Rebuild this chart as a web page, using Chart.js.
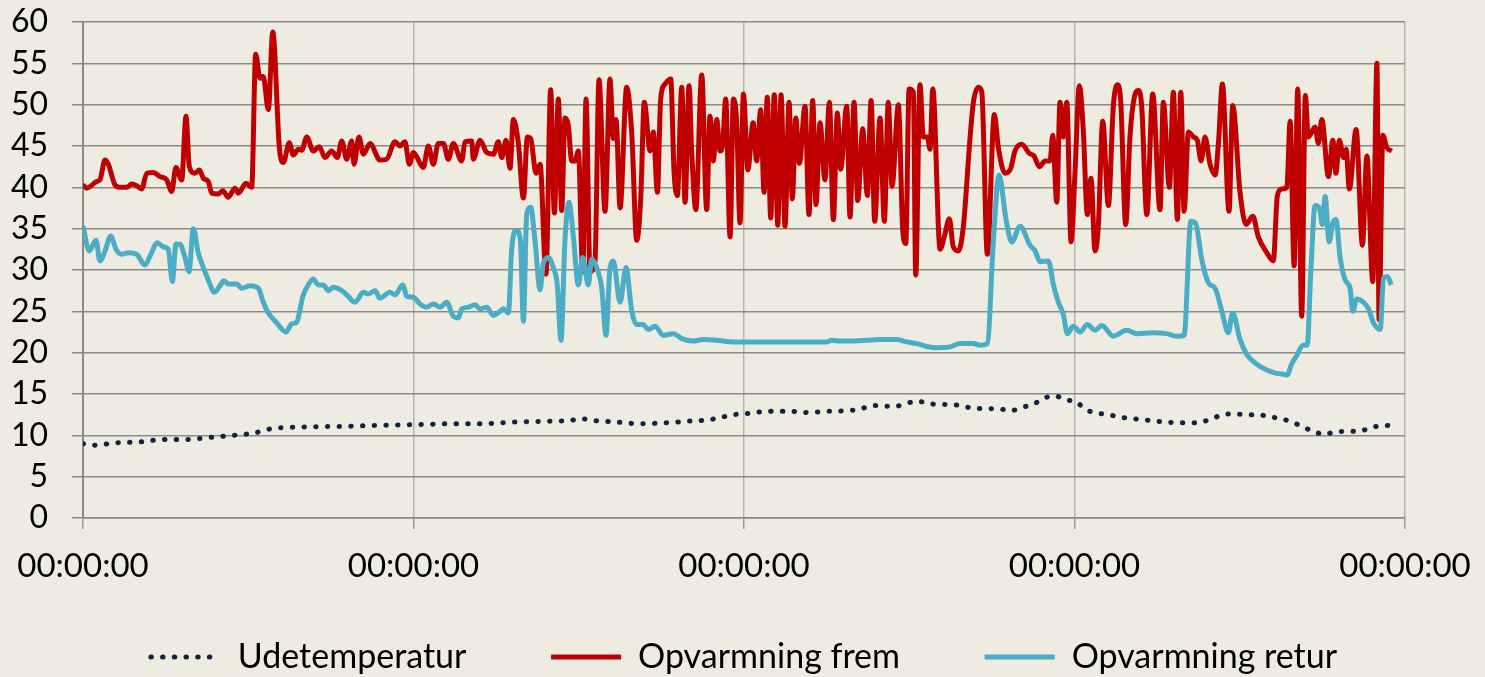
<!DOCTYPE html>
<html lang="da">
<head>
    <meta charset="UTF-8">
    <title>Opvarmning</title>
    <script src="https://cdn.jsdelivr.net/npm/chart.js"></script>
    <style>
        body {
            margin: 0;
            background: #EEECE1;
        }
        #wrap {
            width: 1485px;
            height: 677px;
            position: relative;
        }
    </style>
</head>
<body>
<div id="wrap"><canvas id="chart"></canvas></div>

<script>
// hours since first midnight, value in degrees
const udeData = [
    [0, 9.0], [0.70, 8.8], [2.45, 9.1], [4.14, 9.2], [5.83, 9.5], [7.53, 9.5], [9.22, 9.75],
    [10.92, 10.0], [12.49, 10.3], [13.34, 10.7], [14.16, 10.9], [15.76, 11.0], [19.15, 11.1],
    [21.57, 11.2], [24.47, 11.3], [26.89, 11.4], [28.83, 11.4], [31.25, 11.6], [33.67, 11.7],
    [35.37, 11.8], [36.22, 12.0], [37.06, 11.8], [38.76, 11.6], [40.45, 11.4], [42.14, 11.5],
    [43.84, 11.7], [45.53, 11.9], [46.38, 12.2], [47.23, 12.5], [48.00, 12.6], [49.77, 12.9],
    [51.47, 12.9], [52.31, 12.75], [54.01, 12.9], [55.70, 13.0], [56.55, 13.25], [57.39, 13.6],
    [58.97, 13.5], [59.82, 13.9], [60.71, 14.1], [61.51, 13.8], [63.20, 13.7], [64.90, 13.25],
    [66.47, 13.2], [67.39, 13.0], [68.24, 13.4], [69.06, 13.8], [69.79, 14.5], [70.59, 14.75],
    [71.39, 14.3], [72.16, 14.0], [72.84, 13.1], [73.62, 12.7], [74.46, 12.5], [75.31, 12.2],
    [76.96, 11.9], [78.65, 11.6], [80.34, 11.5], [81.17, 11.6], [81.97, 12.0], [82.77, 12.5],
    [83.61, 12.6], [84.46, 12.5], [85.31, 12.5], [86.15, 12.25], [87.00, 12.0], [87.82, 11.6],
    [88.58, 11.0], [89.35, 10.5], [90.15, 10.1], [90.98, 10.45], [92.67, 10.5], [93.46, 10.9],
    [94.00, 11.1], [94.79, 11.2]
];

const fremData = [
    [0, 40.3], [0.27, 39.9], [0.99, 40.7], [1.23, 40.9], [1.60, 43.3], [1.84, 42.8], [2.32, 40.3],
    [2.69, 40.0], [3.17, 40.0], [3.54, 40.4], [3.90, 40.2], [4.26, 39.8], [4.63, 41.7], [5.11, 41.8],
    [5.59, 41.3], [6.08, 40.9], [6.44, 39.5], [6.75, 42.4], [7.17, 40.9], [7.48, 48.6], [7.72, 42.5],
    [8.13, 41.7], [8.45, 42.1], [8.74, 41.1], [9.10, 40.7], [9.35, 39.3], [9.83, 39.2], [10.15, 39.6],
    [10.55, 38.8], [11.04, 39.9], [11.28, 39.3], [11.84, 40.5], [12.25, 40.0], [12.54, 56.1],
    [12.85, 53.2], [13.09, 53.4], [13.46, 49.4], [13.78, 58.8], [14.26, 44.8], [14.55, 43.0],
    [14.98, 45.4], [15.27, 43.9], [15.64, 44.6], [15.88, 44.5], [16.25, 46.1], [16.72, 44.4],
    [17.16, 44.9], [17.57, 43.6], [18.06, 44.4], [18.47, 43.6], [18.79, 45.6], [19.15, 43.4],
    [19.51, 45.6], [19.68, 42.8], [20.04, 46.1], [20.36, 44.0], [20.84, 45.3], [21.57, 43.3],
    [22.05, 43.4], [22.66, 45.5], [23.02, 45.0], [23.38, 45.5], [23.70, 42.8], [23.99, 44.2],
    [24.23, 43.7], [24.71, 42.4], [25.08, 45.0], [25.44, 42.8], [25.80, 45.3], [26.17, 45.3],
    [26.53, 43.4], [26.89, 45.3], [27.50, 43.2], [27.74, 45.5], [28.23, 45.6], [28.34, 43.4],
    [28.83, 45.7], [29.32, 44.2], [29.80, 44.0], [30.16, 45.5], [30.41, 43.6], [30.72, 45.7],
    [31.01, 42.3], [31.25, 48.2], [31.61, 45.4], [31.98, 38.7], [32.27, 46.1], [32.51, 45.9],
    [32.90, 41.7], [33.19, 42.8], [33.62, 29.5], [33.96, 51.8], [34.23, 36.9], [34.52, 50.7],
    [34.76, 37.2], [35.00, 48.4], [35.24, 47.5], [35.49, 43.2], [35.73, 43.2], [35.97, 44.4],
    [36.29, 29.8], [36.53, 50.7], [36.82, 29.8], [37.18, 31.1], [37.47, 53.0], [37.91, 37.1],
    [38.27, 53.1], [38.51, 45.9], [38.71, 48.2], [39.00, 37.5], [39.48, 52.1], [39.85, 46.5],
    [40.21, 33.6], [40.50, 38.6], [40.76, 50.3], [41.18, 44.4], [41.42, 46.7], [41.71, 39.4],
    [41.95, 50.7], [42.27, 52.5], [42.68, 53.1], [42.92, 41.9], [43.16, 39.0], [43.48, 52.1],
    [43.72, 38.2], [44.01, 52.3], [44.20, 44.4], [44.50, 37.3], [44.93, 53.6], [45.29, 37.3],
    [45.53, 48.6], [45.77, 43.2], [46.02, 48.2], [46.26, 44.4], [46.46, 45.3], [46.67, 50.7],
    [46.99, 34.0], [47.23, 50.7], [47.47, 47.8], [47.71, 35.7], [47.96, 51.3], [48.28, 42.1],
    [48.66, 47.8], [48.92, 43.2], [49.21, 49.4], [49.46, 39.4], [49.69, 50.9], [49.94, 36.3],
    [50.20, 51.2], [50.45, 35.4], [50.69, 51.2], [50.98, 35.3], [51.27, 50.3], [51.51, 38.6],
    [51.76, 48.4], [52.02, 42.9], [52.43, 49.8], [52.72, 36.7], [52.99, 50.5], [53.23, 37.9],
    [53.52, 47.8], [53.88, 40.9], [54.20, 50.3], [54.49, 36.1], [54.78, 49.0], [55.02, 42.2],
    [55.46, 49.8], [55.70, 36.4], [55.99, 50.3], [56.26, 38.4], [56.62, 47.1], [56.96, 39.0],
    [57.23, 50.5], [57.49, 35.9], [57.88, 48.4], [58.19, 35.9], [58.48, 50.3], [58.75, 40.1],
    [59.21, 50.0], [59.53, 34.8], [59.75, 33.2], [59.99, 51.9], [60.30, 51.5], [60.47, 29.4],
    [60.78, 52.4], [61.02, 46.1], [61.31, 46.1], [61.51, 44.6], [61.71, 51.9], [62.24, 32.5],
    [62.60, 34.4], [62.91, 36.2], [63.20, 32.8], [63.57, 32.3], [63.93, 35.3], [64.42, 46.1],
    [64.66, 50.3], [65.02, 52.1], [65.27, 51.5], [65.67, 31.9], [66.18, 48.8], [66.47, 44.8],
    [66.96, 41.7], [67.37, 42.3], [67.68, 44.4], [68.17, 45.2], [68.72, 44.1], [69.06, 43.8],
    [69.45, 42.5], [69.86, 43.2], [70.22, 43.2], [70.42, 46.3], [70.71, 38.2], [70.95, 50.3],
    [71.19, 46.1], [71.44, 50.3], [71.75, 33.4], [72.04, 41.9], [72.35, 52.3], [72.64, 46.9],
    [72.93, 36.7], [73.20, 41.1], [73.49, 32.3], [73.73, 35.3], [74.05, 48.0], [74.46, 37.8],
    [74.82, 49.8], [75.11, 52.4], [75.36, 50.3], [75.72, 35.5], [76.03, 46.1], [76.32, 50.7],
    [76.64, 51.7], [76.88, 49.8], [77.25, 36.7], [77.68, 51.3], [78.21, 37.3], [78.45, 50.3],
    [78.89, 40.0], [79.18, 51.5], [79.47, 36.1], [79.72, 51.5], [79.96, 37.1], [80.27, 46.7],
    [80.63, 46.1], [80.92, 45.7], [81.19, 43.2], [81.48, 46.1], [81.84, 42.8], [82.21, 41.5],
    [82.45, 45.3], [82.74, 52.5], [83.22, 37.1], [83.49, 49.9], [84.02, 39.4], [84.46, 35.5],
    [84.95, 36.5], [85.35, 34.0], [85.96, 32.1], [86.44, 31.1], [86.73, 39.0], [87.05, 39.8],
    [87.42, 40.0], [87.66, 48.0], [87.95, 30.5], [88.21, 51.9], [88.50, 24.4], [88.76, 51.1],
    [88.98, 46.1], [89.47, 47.3], [89.71, 45.3], [89.96, 48.2], [90.44, 41.3], [90.76, 45.7],
    [90.98, 41.7], [91.24, 45.7], [91.53, 43.6], [91.72, 44.6], [91.96, 39.8], [92.45, 47.0],
    [92.91, 33.0], [93.23, 43.8], [93.66, 28.6], [93.96, 55.0], [94.12, 24.0], [94.39, 46.3],
    [94.68, 44.8], [95.04, 44.4]
];

const returData = [
    [0, 35.3], [0.46, 32.3], [0.94, 33.6], [1.23, 31.1], [1.60, 32.3], [2.01, 34.1], [2.40, 32.5],
    [2.81, 31.9], [3.29, 32.1], [3.90, 31.9], [4.50, 30.6], [4.87, 31.7], [5.40, 33.3], [5.83, 32.8],
    [6.19, 32.5], [6.49, 28.6], [6.75, 33.1], [7.04, 33.1], [7.41, 31.5], [7.70, 29.8], [8.01, 35.0],
    [8.37, 32.1], [8.74, 30.3], [9.10, 28.8], [9.54, 27.3], [9.95, 28.1], [10.24, 28.7], [10.55, 28.3],
    [11.16, 28.3], [11.53, 27.8], [12.13, 28.1], [12.73, 27.8], [13.09, 26.1], [13.46, 24.8],
    [14.07, 23.6], [14.74, 22.5], [15.16, 23.5], [15.52, 23.7], [15.96, 26.8], [16.36, 28.2],
    [16.72, 28.9], [17.09, 28.2], [17.45, 28.2], [17.81, 27.5], [18.18, 27.9], [18.79, 27.5],
    [19.27, 26.8], [19.75, 26.1], [20.36, 27.3], [20.72, 27.1], [21.21, 27.5], [21.57, 26.6],
    [22.29, 27.3], [22.66, 27.0], [23.22, 28.2], [23.51, 26.8], [23.99, 26.7], [24.47, 25.9],
    [24.96, 25.5], [25.44, 25.9], [25.93, 25.5], [26.41, 26.1], [26.89, 24.4], [27.26, 24.2],
    [27.50, 25.3], [27.98, 25.5], [28.47, 25.8], [28.83, 25.3], [29.32, 25.5], [29.80, 24.5],
    [30.28, 25.0], [30.53, 25.3], [30.89, 24.8], [31.13, 32.5], [31.46, 34.8], [31.76, 33.6],
    [31.98, 23.8], [32.22, 36.7], [32.51, 37.6], [32.82, 33.6], [33.19, 27.6], [33.43, 30.8],
    [33.79, 31.5], [34.15, 30.3], [34.44, 28.2], [34.71, 21.5], [35.00, 33.6], [35.29, 38.2],
    [35.61, 34.0], [35.97, 28.2], [36.29, 31.5], [36.69, 28.2], [36.94, 31.3], [37.30, 30.3],
    [37.67, 27.8], [37.98, 22.1], [38.27, 30.3], [38.51, 31.1], [39.00, 26.1], [39.43, 30.3],
    [39.85, 25.0], [40.21, 23.4], [40.69, 23.4], [41.05, 22.8], [41.54, 23.2], [42.14, 22.1],
    [42.87, 22.3], [43.48, 21.7], [44.32, 21.4], [45.05, 21.6], [46.02, 21.5], [47.23, 21.3],
    [49.17, 21.3], [54.01, 21.3], [54.37, 21.5], [54.97, 21.4], [55.70, 21.4], [56.91, 21.5],
    [57.88, 21.6], [59.09, 21.6], [59.82, 21.3], [60.54, 21.1], [61.27, 20.75], [62.00, 20.6],
    [62.96, 20.7], [63.69, 21.1], [64.66, 21.1], [65.14, 20.9], [65.67, 21.1], [66.11, 33.6],
    [66.52, 41.5], [67.03, 36.1], [67.44, 33.4], [68.05, 35.3], [68.77, 33.0], [69.14, 32.3],
    [69.50, 31.0], [70.10, 31.1], [70.47, 28.2], [70.83, 26.1], [71.19, 24.6], [71.48, 22.3],
    [71.92, 23.2], [72.40, 22.5], [72.93, 23.4], [73.49, 22.7], [73.98, 23.3], [74.82, 22.0],
    [75.79, 22.7], [76.52, 22.3], [77.72, 22.4], [78.69, 22.3], [79.42, 22.0], [79.96, 22.1],
    [80.45, 35.9], [80.78, 35.7], [81.26, 31.1], [81.74, 28.4], [82.21, 27.8], [82.70, 25.0],
    [83.17, 22.4], [83.48, 24.8], [84.02, 21.6], [84.51, 19.8], [85.24, 18.6], [85.96, 17.9],
    [86.67, 17.5], [87.16, 17.4], [87.45, 17.3], [87.76, 18.6], [88.12, 19.6], [88.60, 20.9],
    [88.90, 20.9], [89.15, 29.4], [89.47, 37.8], [89.78, 37.5], [90.00, 35.5], [90.20, 38.9],
    [90.49, 33.4], [90.76, 35.7], [90.99, 36.1], [91.29, 31.5], [91.65, 28.8], [92.01, 27.8],
    [92.21, 25.0], [92.50, 26.5], [92.98, 26.1], [93.35, 25.3], [93.71, 23.6], [94.20, 22.8],
    [94.44, 29.0], [94.73, 29.2], [95.00, 28.2]
];

const seriesNames = ['Udetemperatur', 'Opvarmning frem', 'Opvarmning retur'];
const xTickLabels = ['00:00:00', '00:00:00', '00:00:00', '00:00:00', '00:00:00'];

function toPoints(pairs) {
    return pairs.map(p => ({ x: p[0], y: p[1] }));
}

// legend samples should look like the lines themselves (dots for Udetemperatur)
function legendLabels(chart) {
    const items = Chart.defaults.plugins.legend.labels.generateLabels(chart);
    items.sort((a, b) => a.datasetIndex - b.datasetIndex);
    items.forEach((item, i) => {
        const ds = chart.data.datasets[item.datasetIndex];
        item.lineDash = ds.borderDash || [];
        item.lineCap = ds.borderCapStyle || 'butt';
        item.lineWidth = ds.borderWidth;
        item.strokeStyle = ds.borderColor;
        if (i < items.length - 1) item.text += ' '.repeat(8); // gap between entries
    });
    return items;
}

new Chart(document.getElementById('chart'), {
    type: 'line',
    data: {
        datasets: [
            {
                label: seriesNames[0],
                data: toPoints(udeData),
                borderColor: '#14233B',
                backgroundColor: '#14233B',
                borderWidth: 5,
                borderDash: [0.5, 11.2],
                borderCapStyle: 'round',
                cubicInterpolationMode: 'monotone',
                pointRadius: 0,
                order: 2
            },
            {
                label: seriesNames[1],
                data: toPoints(fremData),
                borderColor: '#C00000',
                backgroundColor: '#C00000',
                borderWidth: 5,
                borderJoinStyle: 'round',
                cubicInterpolationMode: 'monotone',
                pointRadius: 0,
                order: 1
            },
            {
                label: seriesNames[2],
                data: toPoints(returData),
                borderColor: '#4BACC6',
                backgroundColor: '#4BACC6',
                borderWidth: 5,
                borderJoinStyle: 'round',
                cubicInterpolationMode: 'monotone',
                pointRadius: 0,
                order: 0
            }
        ]
    },
    options: {
        responsive: true,
        maintainAspectRatio: false,
        animation: false,
        layout: {
            padding: { left: 0, right: 80, top: 22, bottom: -7 }
        },
        plugins: {
            tooltip: { enabled: false },
            legend: {
                position: 'bottom',
                fullSize: false,
                labels: {
                    font: { family: 'Lato', size: 34 },
                    color: '#000',
                    usePointStyle: true,
                    pointStyle: 'line',
                    pointStyleWidth: 70,
                    padding: 15,
                    generateLabels: legendLabels
                }
            }
        },
        scales: {
            x: {
                type: 'linear',
                min: 0,
                max: 96,
                afterFit: s => {
                    s.height = 107;
                    s.paddingLeft = 0;
                    s.paddingRight = 0;
                },
                ticks: {
                    stepSize: 24,
                    autoSkip: false,
                    font: { family: 'Lato', size: 33 },
                    color: '#000',
                    padding: 18,
                    maxRotation: 0,
                    callback: (v, i) => xTickLabels[i]
                },
                grid: {
                    color: '#B4B4B4',
                    lineWidth: 1.5,
                    tickLength: 11,
                    tickColor: '#9A9A9A'
                },
                border: { color: '#888', width: 1.5 }
            },
            y: {
                min: 0,
                max: 60,
                afterFit: s => {
                    s.width = 83;
                    s.paddingTop = 0;
                    s.paddingBottom = 0;
                },
                ticks: {
                    stepSize: 5,
                    autoSkip: false,
                    font: { family: 'Lato', size: 32 },
                    color: '#000',
                    padding: 24
                },
                grid: {
                    color: '#8A8A8A',
                    lineWidth: 1.5,
                    tickLength: 11
                },
                border: { color: '#888', width: 2 }
            }
        }
    }
});
</script>
</body>
</html>
